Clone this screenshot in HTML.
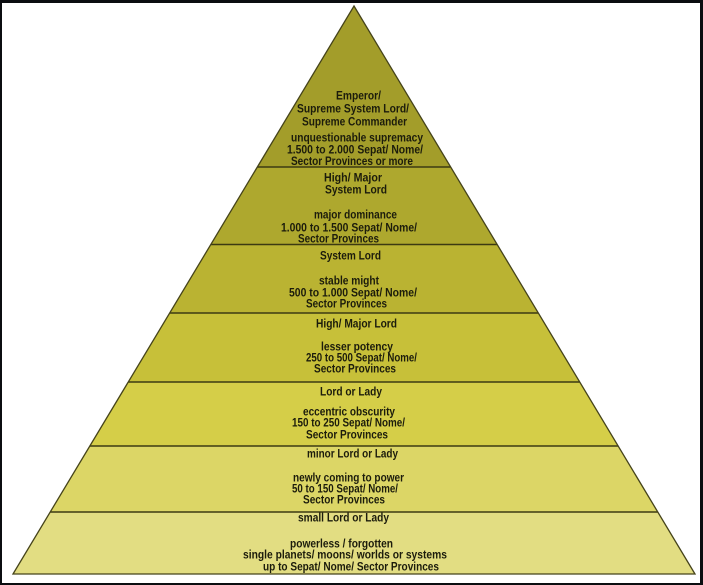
<!DOCTYPE html>
<html><head><meta charset="utf-8"><style>
html,body{margin:0;padding:0;background:#fff;}
svg{display:block;}
text{font-family:"Liberation Sans Narrow","Liberation Sans",sans-serif;font-weight:bold;font-size:12px;fill:#1c1c0c;}
</style></head><body>
<svg width="703" height="585" viewBox="0 0 703 585" xmlns="http://www.w3.org/2000/svg">
<rect x="0" y="0" width="703" height="585" fill="#0b0d10"/>
<rect x="2" y="3" width="698" height="580" fill="#ffffff"/>
<defs><clipPath id="tri"><polygon points="354,6 695,574 13,574"/></clipPath></defs>
<g clip-path="url(#tri)">
<rect x="0" y="0" width="703" height="167" fill="#a39d2a"/>
<rect x="0" y="167" width="703" height="77" fill="#aea82e"/>
<rect x="0" y="244" width="703" height="69" fill="#bab332"/>
<rect x="0" y="313" width="703" height="69" fill="#c7c039"/>
<rect x="0" y="382" width="703" height="64" fill="#d5ce48"/>
<rect x="0" y="446" width="703" height="66" fill="#dcd666"/>
<rect x="0" y="512" width="703" height="62" fill="#e2dd82"/>
<g stroke="#3c3a12" stroke-width="1.6">
<line x1="0" y1="167" x2="703" y2="167"/>
<line x1="0" y1="244.5" x2="703" y2="244.5"/>
<line x1="0" y1="313" x2="703" y2="313"/>
<line x1="0" y1="382" x2="703" y2="382"/>
<line x1="0" y1="446" x2="703" y2="446"/>
<line x1="0" y1="512" x2="703" y2="512"/>
</g>
</g>
<polygon points="354,6 695,574 13,574" fill="none" stroke="#45431a" stroke-width="1.3"/>

<g>
<text x="336" y="99.5" textLength="45" lengthAdjust="spacingAndGlyphs">Emperor/</text>
<text x="297" y="112.5" textLength="112" lengthAdjust="spacingAndGlyphs">Supreme System Lord/</text>
<text x="302" y="125.5" textLength="105" lengthAdjust="spacingAndGlyphs">Supreme Commander</text>
<text x="291" y="141.5" textLength="132" lengthAdjust="spacingAndGlyphs">unquestionable supremacy</text>
<text x="287" y="153.5" textLength="136" lengthAdjust="spacingAndGlyphs">1.500 to 2.000 Sepat/ Nome/</text>
<text x="291" y="165" textLength="122" lengthAdjust="spacingAndGlyphs">Sector Provinces or more</text>

<text x="324" y="181.5" textLength="58" lengthAdjust="spacingAndGlyphs">High/ Major</text>
<text x="325" y="193.5" textLength="62" lengthAdjust="spacingAndGlyphs">System Lord</text>
<text x="314" y="218.5" textLength="83" lengthAdjust="spacingAndGlyphs">major dominance</text>
<text x="281" y="231.5" textLength="136" lengthAdjust="spacingAndGlyphs">1.000 to 1.500 Sepat/ Nome/</text>
<text x="298" y="242.5" textLength="81" lengthAdjust="spacingAndGlyphs">Sector Provinces</text>

<text x="320" y="259.5" textLength="61" lengthAdjust="spacingAndGlyphs">System Lord</text>
<text x="319" y="284.5" textLength="60" lengthAdjust="spacingAndGlyphs">stable might</text>
<text x="289" y="296.5" textLength="128" lengthAdjust="spacingAndGlyphs">500 to 1.000 Sepat/ Nome/</text>
<text x="306" y="307.5" textLength="81" lengthAdjust="spacingAndGlyphs">Sector Provinces</text>

<text x="316" y="327.5" textLength="81" lengthAdjust="spacingAndGlyphs">High/ Major Lord</text>
<text x="321" y="350.5" textLength="72" lengthAdjust="spacingAndGlyphs">lesser potency</text>
<text x="306" y="361.5" textLength="111" lengthAdjust="spacingAndGlyphs">250 to 500 Sepat/ Nome/</text>
<text x="314" y="372.5" textLength="82" lengthAdjust="spacingAndGlyphs">Sector Provinces</text>

<text x="320" y="395.5" textLength="62" lengthAdjust="spacingAndGlyphs">Lord or Lady</text>
<text x="303" y="415.5" textLength="92" lengthAdjust="spacingAndGlyphs">eccentric obscurity</text>
<text x="292" y="426.5" textLength="113" lengthAdjust="spacingAndGlyphs">150 to 250 Sepat/ Nome/</text>
<text x="306" y="438.5" textLength="82" lengthAdjust="spacingAndGlyphs">Sector Provinces</text>

<text x="307" y="457.5" textLength="91" lengthAdjust="spacingAndGlyphs">minor Lord or Lady</text>
<text x="293" y="481.5" textLength="111" lengthAdjust="spacingAndGlyphs">newly coming to power</text>
<text x="292" y="492.5" textLength="106" lengthAdjust="spacingAndGlyphs">50 to 150 Sepat/ Nome/</text>
<text x="303" y="503.5" textLength="82" lengthAdjust="spacingAndGlyphs">Sector Provinces</text>

<text x="298" y="521.5" textLength="91" lengthAdjust="spacingAndGlyphs">small Lord or Lady</text>
<text x="290" y="547.5" textLength="103" lengthAdjust="spacingAndGlyphs">powerless / forgotten</text>
<text x="243" y="558.5" textLength="204" lengthAdjust="spacingAndGlyphs">single planets/ moons/ worlds or systems</text>
<text x="263" y="570.5" textLength="176" lengthAdjust="spacingAndGlyphs">up to Sepat/ Nome/ Sector Provinces</text>
</g>
</svg>
</body></html>
